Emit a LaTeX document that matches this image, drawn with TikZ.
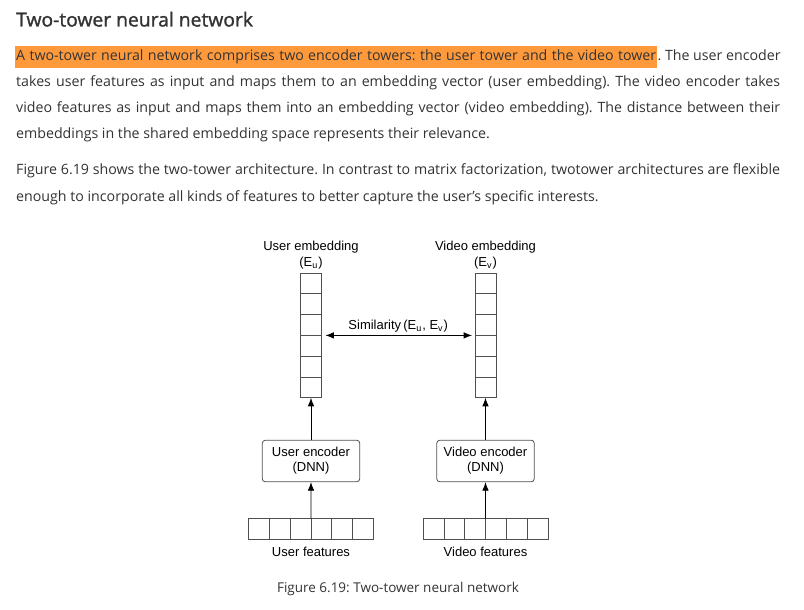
\documentclass[tikz,border=0pt]{standalone}
\usepackage{fontspec}
\setmainfont{Open Sans}
\newfontfamily\headfont[FakeBold=1.3]{Open Sans}
\newfontfamily\diagfont{Liberation Sans}
\usetikzlibrary{positioning,arrows.meta}
\frenchspacing

\definecolor{bodytext}{HTML}{333333}
\definecolor{marker}{HTML}{FF9A3C}
\definecolor{boxline}{HTML}{505050}
\newcommand{\lowsub}[1]{\raisebox{-2.6pt}{\fontsize{9}{9}\selectfont #1}\kern1pt}

\tikzset{
  textline/.style={anchor=base west, inner sep=0pt, text=bodytext, font=\fontsize{14.2}{26}\selectfont},
  cell/.style={draw=boxline, line width=0.8pt, minimum width=20.8pt, minimum height=20.8pt, inner sep=0pt, outer sep=0pt},
  encoder/.style={draw=boxline, line width=0.8pt, rounded corners=3pt, minimum width=97.5pt, minimum height=41.5pt, align=center, inner sep=0pt, font=\diagfont\fontsize{13}{15}\selectfont},
  diaglabel/.style={align=center, inner sep=0pt, font=\diagfont\fontsize{13}{15.5}\selectfont},
  flow/.style={black, line width=0.8pt},
}

\begin{document}
\begin{tikzpicture}[x=1pt, y=-1pt, >={Latex[length=8.5pt,width=6.5pt]}]
\useasboundingbox[fill=white] (0,0) rectangle (804,610);

% heading and text
\node[anchor=base west, inner sep=0pt, text=bodytext, font=\headfont\fontsize{19.3}{22}\selectfont] (title) at (16,26.5) {Two-tower neural network};
\node[textline, fill=marker, minimum height=22pt, inner xsep=1pt] (hl) at (15,61) {\makebox[640pt][s]{A two-tower neural network comprises two encoder towers: the user tower and the video tower}};
\node[textline] (p1a) at (hl.base east) {\makebox[123pt][s]{. The user encoder}};
\node[textline] (p1b) at (16,87) {\makebox[764pt][s]{takes user features as input and maps them to an embedding vector (user embedding). The video encoder takes}};
\node[textline] (p1c) at (16,113) {\makebox[764pt][s]{video features as input and maps them into an embedding vector (video embedding). The distance between their}};
\node[textline] (p1d) at (16,139) {embeddings in the shared embedding space represents their relevance.};
\node[textline] (p2a) at (16,175) {\makebox[764pt][s]{Figure 6.19 shows the two-tower architecture. In contrast to matrix factorization, twotower architectures are flexible}};
\node[textline] (p2b) at (16,201) {enough to incorporate all kinds of features to better capture the user's specific interests.};

% embedding columns
\node[cell] (ue1) at (311,283.4) {};
\node[cell] (ve1) at (485.5,283.4) {};
\foreach \i [count=\j from 2] in {1,...,5} {
  \node[cell, below=0pt of ue\i] (ue\j) {};
  \node[cell, below=0pt of ve\i] (ve\j) {};
}
\node[diaglabel, above=4pt of ue1] (uemb) {User embedding\\(E\lowsub{u})};
\node[diaglabel, above=4pt of ve1] (vemb) {Video embedding\\(E\lowsub{v})};

% encoders
\node[encoder] (uenc) at (311,461) {User encoder\\(DNN)};
\node[encoder] (venc) at (485.5,461) {Video encoder\\(DNN)};

% feature rows
\node[cell] (uf1) at (259,529) {};
\node[cell] (vf1) at (433.5,529) {};
\foreach \i [count=\j from 2] in {1,...,5} {
  \node[cell, right=0pt of uf\i] (uf\j) {};
  \node[cell, right=0pt of vf\i] (vf\j) {};
}
\node[diaglabel, below=7pt of uf3.south east] (ufeat) {User features};
\node[diaglabel, below=7pt of vf3.south east] (vfeat) {Video features};

% arrows
\draw[->, flow] (uf3.north east) -- (uenc.south);
\draw[->, flow] (vf3.north east) -- (venc.south);
\draw[->, flow] (uenc) -- (ue6);
\draw[->, flow] (venc) -- (ve6);
\draw[<->, flow, shorten <=4pt, shorten >=3pt] (ue3.south east) -- node[diaglabel, above=3pt] {Similarity\,(E\lowsub{u}, E\lowsub{v})} (ve3.south west);

% caption
\node[anchor=base, inner sep=0pt, text=bodytext, font=\fontsize{13.5}{16}\selectfont] (caption) at (398,592) {Figure 6.19: Two-tower neural network};
\end{tikzpicture}
\end{document}
